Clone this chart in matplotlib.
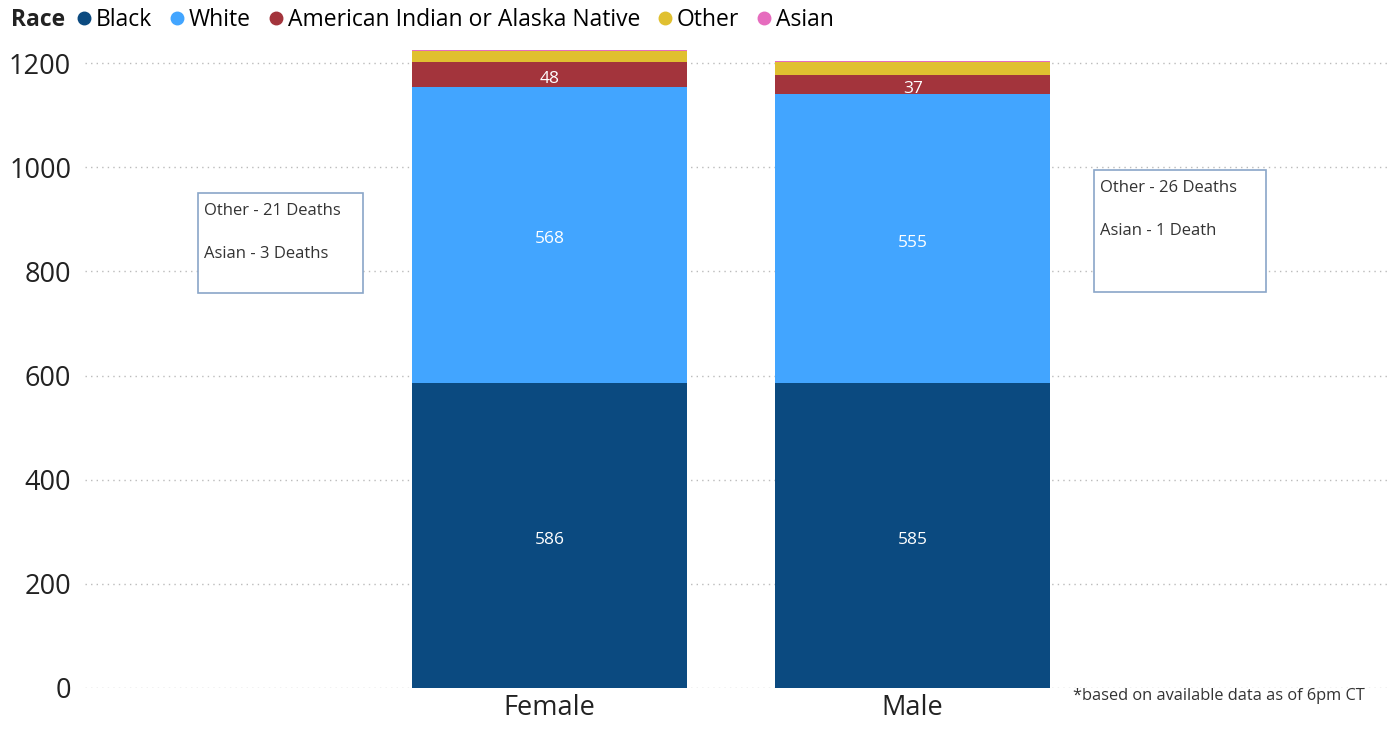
import matplotlib.pyplot as plt
from matplotlib.lines import Line2D
from matplotlib.patches import Rectangle

plt.rcParams['font.family'] = ['Open Sans', 'DejaVu Sans']

genders = ['Female', 'Male']
races = ['Black', 'White', 'American Indian or Alaska Native', 'Other', 'Asian']
colors = ['#0B4A80', '#42A5FF', '#A3343C', '#E0C030', '#E66CBE']
deaths = {
    'Black': [586, 585],
    'White': [568, 555],
    'American Indian or Alaska Native': [48, 37],
    'Other': [21, 26],
    'Asian': [3, 1],
}
labelled = ['Black', 'White', 'American Indian or Alaska Native']
notes = ['Other - 21 Deaths\n\nAsian - 3 Deaths', 'Other - 26 Deaths\n\nAsian - 1 Death']

W, H = 1396, 731
fig = plt.figure(figsize=(W / 100, H / 100), dpi=100)
ax = fig.add_axes([85 / W, 43 / H, (1390 - 85) / W, (688 - 45) / H])

x = range(len(genders))
bottom = [0, 0]
for race, col in zip(races, colors):
    vals = deaths[race]
    ax.bar(x, vals, width=0.757, bottom=bottom, color=col, zorder=3)
    if race in labelled:
        for i, v in enumerate(vals):
            ax.text(i, bottom[i] + v / 2 - 4, str(v), ha='center', va='center_baseline',
                    color='white', fontsize=12.5, zorder=4)
    bottom = [b + v for b, v in zip(bottom, vals)]

ax.set_xlim(-1.28, 2.315)
ax.set_ylim(0, 1235)
ax.set_yticks([0, 200, 400, 600, 800, 1000, 1200])
ax.set_xticks(list(x))
ax.set_xticklabels(genders, fontsize=19.5, color='#222222')
ax.tick_params(axis='y', labelsize=19.5, colors='#222222', length=0, pad=10)
ax.tick_params(axis='x', length=0, pad=4)
ax.grid(axis='y', linestyle=(0, (1, 3)), color='#bbbbbb', linewidth=1, zorder=0)
for s in ax.spines.values():
    s.set_visible(False)

# note boxes
for (x0, y0, x1, y1), txt in zip([(198, 193, 363, 293), (1094, 170, 1266, 292)], notes):
    fig.patches.append(Rectangle((x0 / W, 1 - y1 / H), (x1 - x0) / W, (y1 - y0) / H,
                                 transform=fig.transFigure, facecolor='white',
                                 edgecolor='#8aa6c8', linewidth=1.2, zorder=5))
    fig.text((x0 + 6) / W, 1 - (y0 + 10) / H, txt, fontsize=12, color='#333333',
             va='top', ha='left', linespacing=1.45, zorder=6)

fig.text(1073 / W, 1 - 696 / H, '*based on available data as of 6pm CT',
         fontsize=11.8, color='#333333', va='center')

# legend
fig.text(11 / W, 1 - 20 / H, 'Race', fontsize=16.5, fontweight='bold', va='center', color='#222222')
handles = [Line2D([], [], marker='o', linestyle='', color=c, markersize=9) for c in colors]
fig.legend(handles, races, loc='center left', bbox_to_anchor=(73 / W, 1 - 20 / H),
           ncol=5, frameon=False, fontsize=16.5, handletextpad=0.0, columnspacing=0.6,
           handlelength=1.0, borderaxespad=0, borderpad=0)

fig.savefig('out.png', dpi=100)
